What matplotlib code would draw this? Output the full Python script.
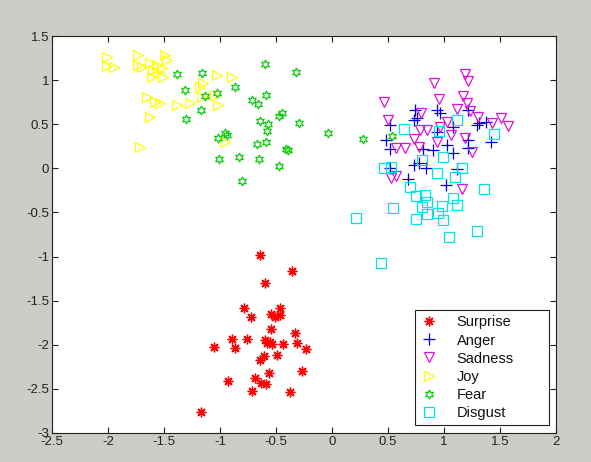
import matplotlib
matplotlib.use("Agg")
import matplotlib.pyplot as plt
from matplotlib.ticker import FuncFormatter

plt.rcParams['font.family'] = ['Liberation Sans', 'DejaVu Sans']
plt.rcParams['axes.unicode_minus'] = False

surprise_x = [-0.643, -0.354, -0.595, -0.786, -0.723, -0.548, -0.512, -0.464, -0.464, -0.545, -0.327, -0.890,
              -0.762, -0.598, -0.554, -0.539, -0.578, -0.435, -0.315, -1.054, -0.866, -0.235, -0.494, -0.607,
              -0.640, -0.265, -0.563, -0.932, -0.685, -0.631, -0.589, -0.714, -0.378, -1.167]
surprise_y = [-0.983, -1.161, -1.304, -1.584, -1.689, -1.652, -1.682, -1.588, -1.663, -1.826, -1.871, -1.935,
              -1.935, -1.947, -1.966, -1.992, -1.984, -1.992, -1.977, -2.022, -2.037, -2.052, -2.117, -2.128,
              -2.173, -2.294, -2.317, -2.415, -2.374, -2.430, -2.445, -2.521, -2.536, -2.760]

anger_x = [0.741, 0.935, 0.732, 0.964, 0.518, 1.217, 1.292, 1.372, 0.482, 0.935, 1.083, 1.217, 1.417, 0.518,
           0.810, 0.904, 1.024, 1.083, 1.217, 0.732, 0.777, 0.839, 0.518, 1.113, 0.681, 1.018, 0.762, 1.315]
anger_y = [0.661, 0.661, 0.548, 0.624, 0.491, 0.661, 0.491, 0.528, 0.321, 0.415, 0.472, 0.321, 0.302, 0.215,
           0.215, 0.207, 0.264, 0.170, 0.227, 0.037, 0.057, 0.000, 0.000, -0.011, -0.121, -0.189, 0.572, 0.510]

sadness_x = [1.188, 1.212, 0.913, 0.462, 0.958, 1.172, 1.208, 1.113, 1.232, 1.306, 1.509, 1.574, 1.426, 0.795,
             0.503, 1.024, 0.964, 0.786, 0.845, 0.732, 0.777, 1.063, 1.188, 0.935, 0.569, 0.654, 1.247, 0.527,
             0.569, 1.163]
sadness_y = [1.069, 0.993, 0.964, 0.748, 0.782, 0.820, 0.737, 0.669, 0.653, 0.585, 0.567, 0.483, 0.517, 0.624,
             0.548, 0.528, 0.472, 0.434, 0.434, 0.332, 0.245, 0.378, 0.347, 0.302, 0.227, 0.227, 0.188, -0.113,
             -0.087, -0.238]

joy_x = [-2.012, -2.012, -1.946, -1.729, -1.729, -1.699, -1.625, -1.596, -1.610, -1.565, -1.551, -1.521, -1.491,
         -1.476, -1.506, -1.654, -1.580, -1.536, -1.625, -1.387, -1.268, -1.714, -1.179, -1.164, -1.029, -0.896,
         -1.149, -1.045, -1.015, -0.955]
joy_y = [1.265, 1.160, 1.152, 1.285, 1.171, 1.152, 1.190, 1.115, 1.039, 1.171, 1.095, 1.134, 1.285, 1.228, 1.039,
         0.812, 0.755, 0.737, 0.585, 0.718, 0.737, 0.245, 0.925, 0.812, 1.058, 1.039, 0.964, 0.831, 0.718, 0.302]

fear_x = [-1.381, -1.158, -0.598, -0.321, -1.313, -1.134, -1.029, -0.866, -1.172, -1.304, -0.589, -0.712, -0.658,
          -0.471, -0.449, -0.297, -0.643, -0.569, -0.583, -0.955, -0.940, -1.015, -0.672, -0.589, -0.411, -0.390,
          -1.012, -0.833, -0.649, -0.473, -0.804, -0.033, 0.280, 0.533]
fear_y = [1.069, 1.084, 1.183, 1.095, 0.888, 0.823, 0.850, 0.918, 0.661, 0.556, 0.831, 0.774, 0.729, 0.596, 0.624,
          0.517, 0.536, 0.502, 0.423, 0.404, 0.378, 0.347, 0.272, 0.302, 0.215, 0.207, 0.105, 0.125, 0.102, 0.030,
          -0.141, 0.397, 0.332, 0.366]

disgust_x = [1.113, 0.646, 0.955, 1.446, 0.994, 0.801, 0.464, 0.527, 0.935, 1.158, 1.098, 0.694, 1.357, 0.750,
             0.830, 0.851, 0.979, 1.076, 1.113, 0.547, 0.214, 0.851, 0.748, 0.988, 1.046, 1.297, 0.435, 0.949, 0.801]
disgust_y = [0.548, 0.442, 0.426, 0.389, 0.132, 0.094, 0.000, 0.020, -0.057, 0.006, -0.099, -0.209, -0.237, -0.314,
             -0.299, -0.379, -0.427, -0.334, -0.419, -0.454, -0.563, -0.515, -0.578, -0.590, -0.776, -0.709, -1.077,
             -0.510, -0.435]

labels = ['Surprise', 'Anger', 'Sadness', 'Joy', 'Fear', 'Disgust']
x_ticks = [-2.5, -2, -1.5, -1, -0.5, 0, 0.5, 1, 1.5, 2]
y_ticks = [-3, -2.5, -2, -1.5, -1, -0.5, 0, 0.5, 1, 1.5]

fig = plt.figure(figsize=(5.91, 4.62), dpi=100, facecolor='#cbcec7')
ax = fig.add_axes([0.088, 0.063, 0.853, 0.859])
ax.set_facecolor('white')

lw = 0.9
ax.plot(surprise_x, surprise_y, linestyle='none', marker=(8, 2, 0), color='#ff0000', ms=7, mew=1.0, label=labels[0])
ax.plot(anger_x, anger_y, linestyle='none', marker='+', color='#0000dd', ms=8, mew=lw, label=labels[1])
ax.plot(sadness_x, sadness_y, linestyle='none', marker='v', mfc='none', mec='#dd11dd', ms=7, mew=lw, label=labels[2])
ax.plot(joy_x, joy_y, linestyle='none', marker='>', mfc='none', mec='#ffff00', ms=7, mew=lw, label=labels[3])
ax.plot(fear_x, fear_y, linestyle='none', marker=(6, 1, 0), mfc='none', mec='#11cc11', ms=6.5, mew=lw, label=labels[4])
ax.plot(disgust_x, disgust_y, linestyle='none', marker='s', mfc='none', mec='#00e5e5', ms=7, mew=lw, label=labels[5])

ax.set_xlim(-2.5, 2)
ax.set_ylim(-3, 1.5)
ax.set_xticks(x_ticks)
ax.set_yticks(y_ticks)
fmt = FuncFormatter(lambda v, p: '%g' % v)
ax.xaxis.set_major_formatter(fmt)
ax.yaxis.set_major_formatter(fmt)
ax.tick_params(direction='in', top=True, right=True, length=4, width=0.8, labelsize=9.5, pad=2, colors='#222222')
for s in ax.spines.values():
    s.set_linewidth(0.8)
    s.set_color('#222222')

leg = ax.legend(loc='lower left', bbox_to_anchor=(0.720, 0.020, 0.266, 0.2), mode='expand',
                fancybox=False, framealpha=1, edgecolor='#222222', fontsize=10.5,
                handlelength=1.2, handletextpad=1.3, labelspacing=0.28, borderpad=0.35, borderaxespad=0)
leg.get_frame().set_linewidth(0.8)
for t in leg.get_texts():
    t.set_color('#111111')

fig.savefig('out.png', dpi=100, facecolor=fig.get_facecolor())
